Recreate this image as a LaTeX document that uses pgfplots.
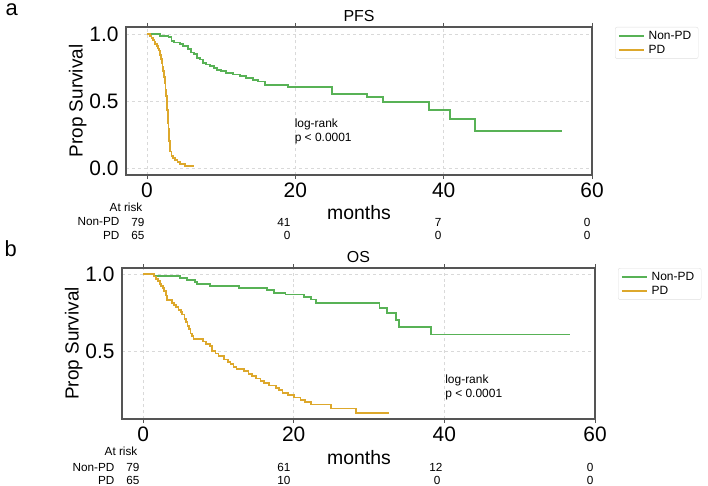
\documentclass[border=0pt]{standalone}
\usepackage{fontspec}
\setmainfont{Liberation Sans}
\usepackage{pgfplots}
\pgfplotsset{compat=1.18}

\definecolor{kmgreen}{RGB}{88,178,86}
\definecolor{kmorange}{RGB}{221,168,44}
\definecolor{spine}{RGB}{85,85,85}

\pgfplotsset{
  km/.style={
    scale only axis, axis line style={spine, line width=1.2bp},
    xmin=-2.83, xmax=60, xtick={0,20,40,60},
    tick align=outside, tick style={spine, line width=0.8bp},
    major tick length=4bp, ytick style={draw=none},
    grid=major, grid style={gray!30, dashed, line width=0.5bp},
    tick label style={font=\fontsize{21}{24}\selectfont},
    /pgf/number format/assume math mode=true,
    yticklabel style={/pgf/number format/.cd, fixed, fixed zerofill, precision=1},
    xticklabel style={/pgf/number format/.cd, fixed, precision=0},
    ylabel={Prop Survival}, ylabel style={font=\fontsize{19}{22}\selectfont, yshift=-4bp},
    title style={font=\fontsize{16}{18}\selectfont, yshift=-4bp},
    legend cell align=left,
    legend image code/.code={\draw[#1, line width=1.5bp] (0bp,0bp) -- (25bp,0bp);},
    legend style={at={(1,1)}, anchor=north west, xshift=23bp, yshift=0bp,
      font=\fontsize{12}{14}\selectfont, draw=gray!25, rounded corners=2bp,
      inner xsep=3bp, inner ysep=2bp, row sep=0bp,
      nodes={inner xsep=4bp, inner ysep=2bp}},
    clip=false,
  },
  kmline/.style={const plot, line width=1.8bp, mark=none},
}

\begin{document}
\begin{tikzpicture}[x=1bp,y=1bp]
\useasboundingbox (0,0) rectangle (708,486);

% ---- panel a: PFS ----
\node[anchor=base west, font=\fontsize{22}{24}\selectfont] at (2,470) {a};
\begin{axis}[km, at={(126bp,311bp)}, anchor=south west,
  width=466bp, height=148bp, ymin=-0.052, ymax=1.052, ytick={0,0.5,1}, title={PFS}]
\addplot[kmline, kmgreen] coordinates {
  (0,1) (1.75,0.987) (2.9,0.975) (3.3,0.949) (3.6,0.937) (4.4,0.924) (4.9,0.911)
  (5.5,0.886) (5.9,0.861) (6.3,0.848) (6.7,0.823) (7.1,0.81) (7.6,0.785) (8.0,0.772)
  (8.5,0.759) (9.0,0.747) (9.4,0.734) (10.0,0.722) (10.7,0.709) (11.6,0.697)
  (12.5,0.684) (13.4,0.671) (14.3,0.658) (15.0,0.646) (15.9,0.62) (19.0,0.602)
  (24.9,0.55) (29.7,0.528) (31.8,0.493) (38.0,0.433) (40.8,0.368) (44.2,0.276) (56.0,0.276)};
\addlegendentry{Non-PD}
\addplot[kmline, kmorange] coordinates {
  (0,1) (0.4,0.985) (0.6,0.969) (0.8,0.954) (1.0,0.938) (1.1,0.923) (1.3,0.908)
  (1.5,0.892) (1.6,0.877) (1.7,0.862) (1.8,0.846) (1.9,0.815) (2.0,0.785) (2.1,0.754)
  (2.2,0.723) (2.3,0.677) (2.4,0.631) (2.5,0.585) (2.6,0.538) (2.7,0.477) (2.75,0.431)
  (2.8,0.385) (2.85,0.338) (2.9,0.292) (2.95,0.246) (3.0,0.2) (3.05,0.154) (3.15,0.123)
  (3.3,0.092) (3.5,0.077) (3.8,0.062) (4.1,0.046) (4.5,0.031) (5.1,0.015) (6.4,0.015)};
\addlegendentry{PD}
\node[anchor=west, align=left, font=\fontsize{12}{13.5}\selectfont, inner sep=0pt]
  at (axis cs:19.9,0.272) {log-rank\\p < 0.0001};
\end{axis}
\begin{scope}[font=\fontsize{11.8}{13}\selectfont]
  \node[anchor=center] at (126,279) {At risk};
  \node[anchor=east] at (123,264) {Non-PD};
  \node[anchor=east] at (123,251) {PD};
  \node[anchor=east] at (148,264) {79}; \node[anchor=east] at (148,251) {65};
  \node[anchor=east] at (294,264) {41}; \node[anchor=east] at (294,251) {0};
  \node[anchor=east] at (445,264) {7};  \node[anchor=east] at (445,251) {0};
  \node[anchor=east] at (594,264) {0};  \node[anchor=east] at (594,251) {0};
\end{scope}
\node[font=\fontsize{19.5}{22}\selectfont] at (359,273) {months};

% ---- panel b: OS ----
\node[anchor=base west, font=\fontsize{22}{24}\selectfont] at (1,229) {b};
\begin{axis}[km, at={(122bp,67bp)}, anchor=south west,
  width=473bp, height=151bp, xmin=-2.8, ymin=0.06, ymax=1.04, ytick={0.5,1}, title={OS}]
\addplot[kmline, kmgreen] coordinates {
  (0,1) (1.4,0.987) (4.9,0.975) (5.8,0.962) (6.9,0.949) (7.2,0.937) (8.9,0.924)
  (12.7,0.91) (16.5,0.895) (17.4,0.88) (18.9,0.868) (21.4,0.853) (22.3,0.835)
  (23.0,0.815) (31.4,0.781) (32.4,0.747) (33.6,0.701) (34.0,0.658) (38.2,0.608) (56.7,0.608)};
\addlegendentry{Non-PD}
\addplot[kmline, kmorange] coordinates {
  (0,1) (1.4,0.985) (1.7,0.969) (2.0,0.954) (2.2,0.938) (2.4,0.923) (2.6,0.908)
  (2.8,0.892) (3.0,0.862) (3.2,0.831) (3.8,0.815) (4.1,0.8) (4.4,0.785) (4.7,0.769)
  (5.0,0.754) (5.2,0.738) (5.5,0.708) (5.7,0.692) (5.9,0.662) (6.1,0.646) (6.3,0.615)
  (6.5,0.6) (6.7,0.578) (8.0,0.563) (8.4,0.548) (8.9,0.532) (9.2,0.5) (9.6,0.485)
  (10.0,0.469) (10.7,0.446) (11.3,0.43) (11.6,0.415) (12.0,0.4) (12.4,0.385)
  (13.4,0.369) (14.0,0.354) (14.5,0.338) (15.0,0.323) (15.6,0.308) (16.0,0.292)
  (16.7,0.277) (17.6,0.262) (18.0,0.246) (18.5,0.231) (19.2,0.215) (20.0,0.2)
  (20.9,0.185) (21.5,0.171) (22.3,0.154) (24.9,0.128) (28.3,0.10) (32.7,0.10)};
\addlegendentry{PD}
\node[anchor=west, align=left, font=\fontsize{12}{13.5}\selectfont, inner sep=0pt]
  at (axis cs:40.1,0.266) {log-rank\\p < 0.0001};
\end{axis}
\begin{scope}[font=\fontsize{11.8}{13}\selectfont]
  \node[anchor=center] at (121,35) {At risk};
  \node[anchor=east] at (118,18.5) {Non-PD};
  \node[anchor=east] at (118,5.5) {PD};
  \node[anchor=east] at (143,18.5) {79}; \node[anchor=east] at (143,5.5) {65};
  \node[anchor=east] at (294,18.5) {61}; \node[anchor=east] at (294,5.5) {10};
  \node[anchor=east] at (446,18.5) {12}; \node[anchor=east] at (444,5.5) {0};
  \node[anchor=east] at (597,18.5) {0};  \node[anchor=east] at (597,5.5) {0};
\end{scope}
\node[font=\fontsize{19.5}{22}\selectfont] at (359,28) {months};
\end{tikzpicture}
\end{document}
